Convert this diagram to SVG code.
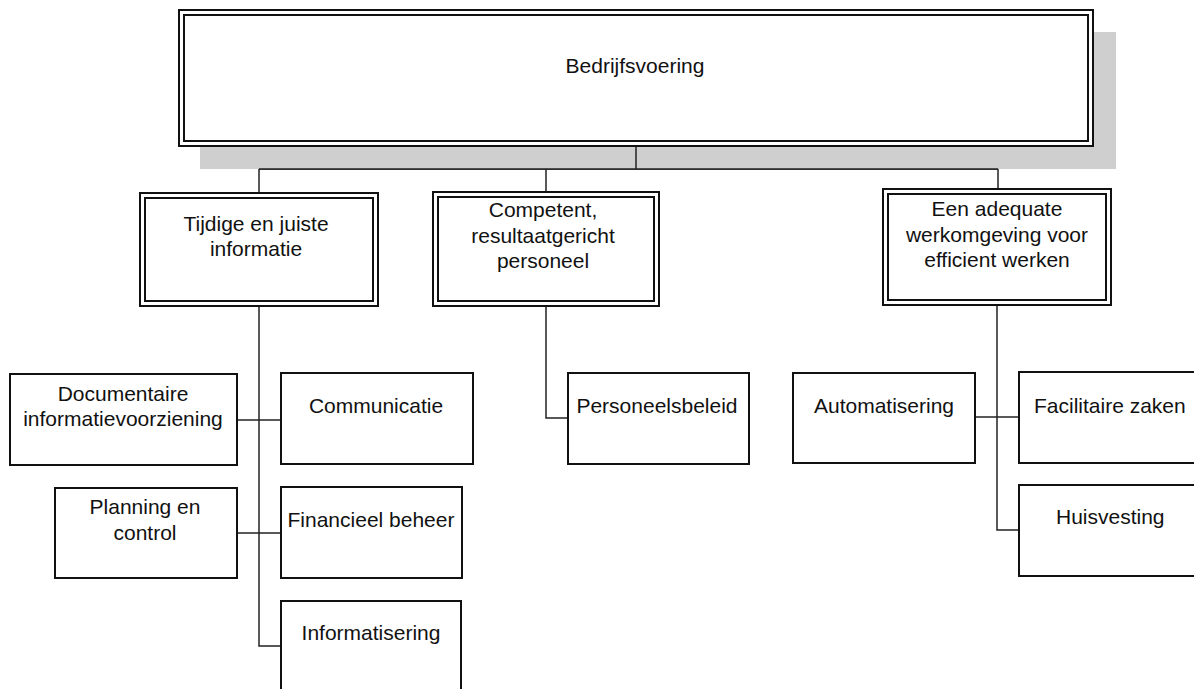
<svg xmlns="http://www.w3.org/2000/svg" width="1194" height="689" viewBox="0 0 1194 689">
<style>
  text { font-family: "Liberation Sans", Arial, sans-serif; font-size: 21px; fill: #111; text-anchor: middle; }
  .box { fill: #fff; stroke: #111; stroke-width: 2; }
  .inner { fill: none; stroke: #111; stroke-width: 2; }
  .shadow { fill: #cfcfcf; stroke: none; }
  .conn { fill: none; stroke: #222; stroke-width: 1.5; }
</style>
<rect width="1194" height="689" fill="#fff"/>
<g id="connectors">
  <polyline class="conn" points="636,147 636,169"/>
  <polyline class="conn" points="259,193 259,169 998,169 998,189"/>
  <polyline class="conn" points="546,169 546,192"/>
  <polyline class="conn" points="259,306 259,646 281,646"/>
  <polyline class="conn" points="237,420 281,420"/>
  <polyline class="conn" points="237,533 281,533"/>
  <polyline class="conn" points="546,306 546,418 568,418"/>
  <polyline class="conn" points="997,305 997,530 1019,530"/>
  <polyline class="conn" points="975,417 1019,417"/>
</g>
<g id="node-bedrijfsvoering">
  <rect class="shadow" x="200" y="32" width="916" height="137"/>
  <line x1="636" y1="147" x2="636" y2="169" stroke="#222" stroke-width="1.5"/>
  <line x1="259" y1="169" x2="998" y2="169" stroke="#222" stroke-width="1.5"/>
  <rect class="box" x="179" y="10" width="914" height="136"/>
  <rect class="inner" x="184" y="15" width="904" height="126"/>
  <text x="635" y="73">Bedrijfsvoering</text>
</g>
<g id="node-tijdige">
  <rect class="box" x="140" y="193" width="238" height="113"/>
  <rect class="inner" x="145" y="198" width="228" height="103"/>
  <text x="256" y="231">Tijdige en juiste</text>
  <text x="256" y="256">informatie</text>
</g>
<g id="node-competent">
  <rect class="box" x="433" y="192" width="226" height="114"/>
  <rect class="inner" x="438" y="197" width="216" height="104"/>
  <text x="543" y="217">Competent,</text>
  <text x="543" y="243">resultaatgericht</text>
  <text x="543" y="268">personeel</text>
</g>
<g id="node-werkomgeving">
  <rect class="box" x="883" y="189" width="228" height="116"/>
  <rect class="inner" x="888" y="194" width="218" height="106"/>
  <text x="997" y="216">Een adequate</text>
  <text x="997" y="242">werkomgeving voor</text>
  <text x="997" y="267">efficient werken</text>
</g>
<g id="node-documentaire">
  <rect class="box" x="10" y="374" width="227" height="91"/>
  <text x="123" y="401">Documentaire</text>
  <text x="123" y="426">informatievoorziening</text>
</g>
<g id="node-communicatie">
  <rect class="box" x="281" y="373" width="192" height="91"/>
  <text x="376" y="413">Communicatie</text>
</g>
<g id="node-planning">
  <rect class="box" x="55" y="488" width="182" height="90"/>
  <text x="145" y="514">Planning en</text>
  <text x="145" y="540">control</text>
</g>
<g id="node-financieel">
  <rect class="box" x="281" y="487" width="181" height="91"/>
  <text x="371" y="527">Financieel beheer</text>
</g>
<g id="node-informatisering">
  <rect class="box" x="281" y="601" width="180" height="110"/>
  <text x="371" y="640">Informatisering</text>
</g>
<g id="node-personeelsbeleid">
  <rect class="box" x="568" y="373" width="181" height="91"/>
  <text x="657" y="413">Personeelsbeleid</text>
</g>
<g id="node-automatisering">
  <rect class="box" x="793" y="373" width="182" height="90"/>
  <text x="884" y="413">Automatisering</text>
</g>
<g id="node-facilitaire">
  <rect class="box" x="1019" y="372" width="190" height="91"/>
  <text x="1034" y="413" style="text-anchor:start">Facilitaire zaken</text>
</g>
<g id="node-huisvesting">
  <rect class="box" x="1019" y="485" width="190" height="91"/>
  <text x="1056" y="524" style="text-anchor:start">Huisvesting</text>
</g>
</svg>
